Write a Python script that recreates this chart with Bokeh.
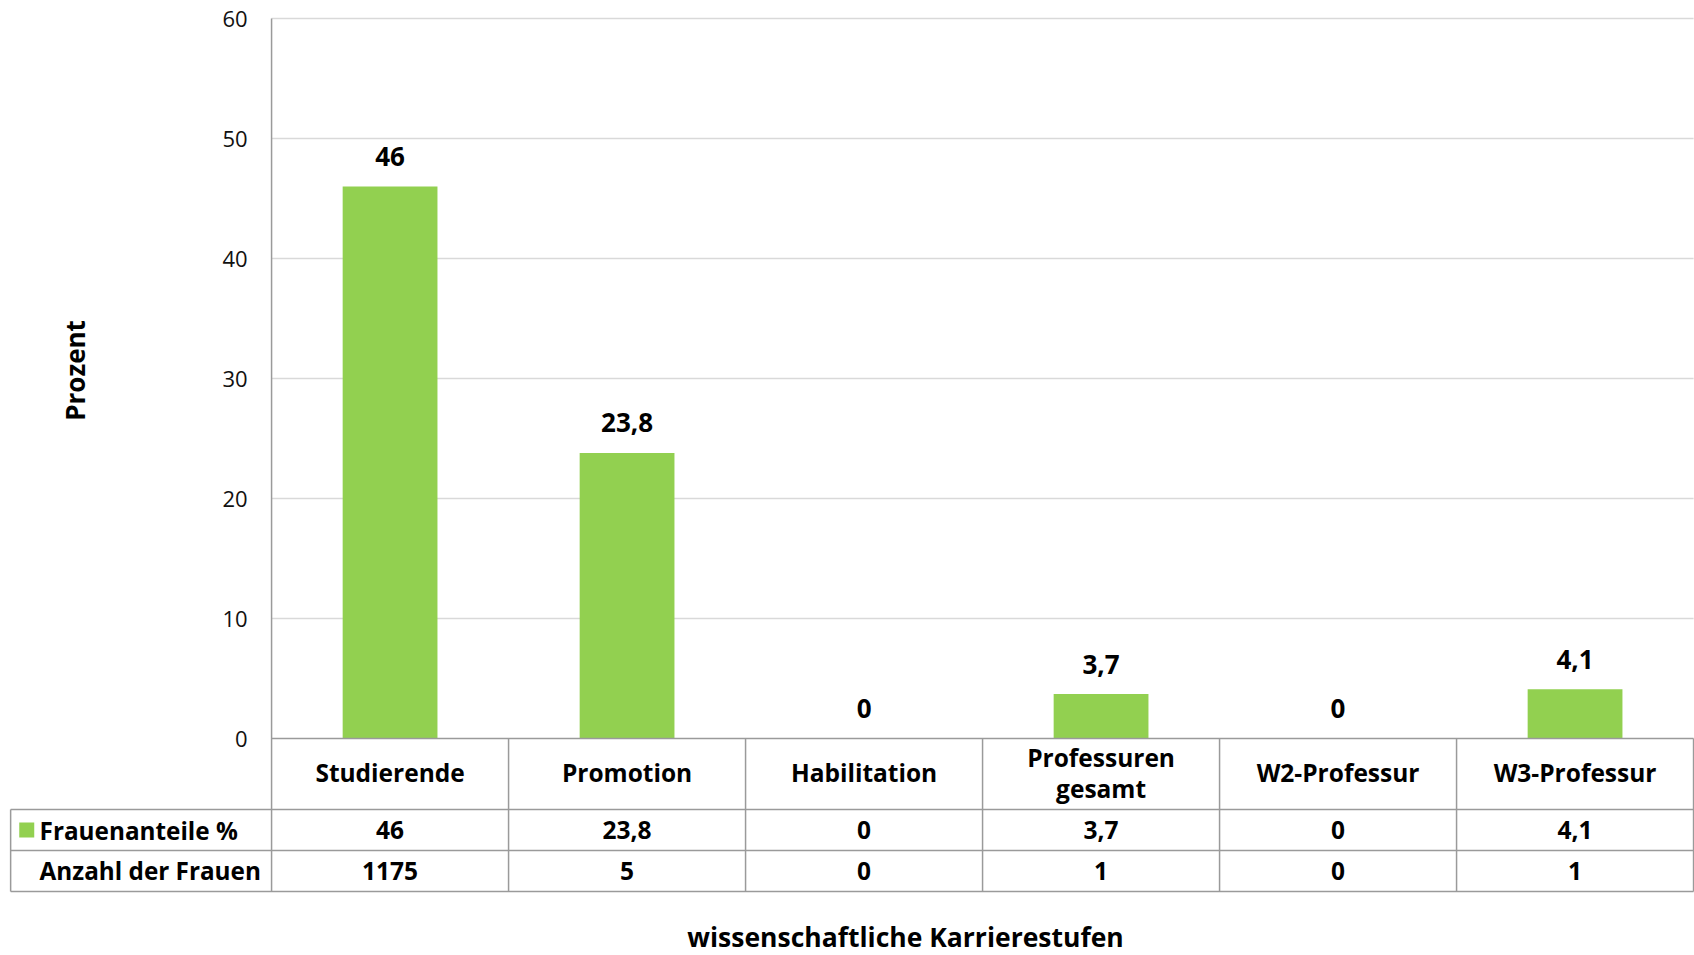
import math
from bokeh.plotting import figure
from bokeh.models import Range1d, LinearAxis, FixedTicker
from bokeh.core.properties import value
from bokeh.embed import file_html
from bokeh.resources import INLINE

# ---------------- data ----------------
categories = ["Studierende", "Promotion", "Habilitation", "Professuren\ngesamt", "W2-Professur", "W3-Professur"]
frauenanteile = [46, 23.8, 0, 3.7, 0, 4.1]
anzahl_frauen = [1175, 5, 0, 1, 0, 1]
y_ticks = [0, 10, 20, 30, 40, 50, 60]
series_name = "Frauenanteile %"
row2_name = "Anzahl der Frauen"
y_title = "Prozent"
x_title = "wissenschaftliche Karrierestufen"

# ---------------- style ----------------
FONT = "Open Sans"
GREEN = "#92D050"
LINE = "#9a9a9a"
GRID = "#d9d9d9"
TXT = "#000000"

n = len(categories)
xc = [i + 0.5 for i in range(n)]
fmt = lambda v: f"{v:g}".replace(".", ",")

HEAD = -1.101          # left edge of the table's header column
Y_CAT = -5.92          # bottom of category row
Y_R1 = -9.33           # bottom of first data row
Y_R2 = -12.75          # bottom of table

p = figure(width=1694, height=955,
           x_range=Range1d(-1.11, 6.004), y_range=Range1d(-18.083, 61.5),
           output_backend="svg", toolbar_location=None,
           x_axis_location=None, y_axis_location=None,
           min_border_left=8, min_border_right=0, min_border_top=0, min_border_bottom=0,
           outline_line_color=None)
p.grid.visible = False

# y axis drawn at x = 0
yaxis = LinearAxis(ticker=FixedTicker(ticks=y_ticks), fixed_location=0,
                   axis_line_color=None, major_tick_out=0, major_tick_in=0,
                   minor_tick_line_color=None, major_label_standoff=24,
                   major_label_text_font=FONT, major_label_text_font_size="22px",
                   major_label_text_color="#111111")
p.add_layout(yaxis, "left")

# gridlines
gt = [t for t in y_ticks if t > 0]
p.segment(x0=[0] * len(gt), x1=[n] * len(gt), y0=gt, y1=gt, line_color=GRID, line_width=1.5)

# bars
p.vbar(x=xc, top=frauenanteile, bottom=0, width=0.4, fill_color=GREEN, line_color=None)

# bar labels
p.text(x=xc, y=[v + 2.5 for v in frauenanteile], text=[fmt(v) for v in frauenanteile],
       text_align="center", text_baseline="middle", text_font=value(FONT),
       text_font_style="bold", text_font_size="26px", text_color=TXT)

# table lines
hx0 = [0, HEAD, HEAD, HEAD]
hx1 = [n, n, n, n]
hy = [0, Y_CAT, Y_R1, Y_R2]
p.segment(x0=hx0, x1=hx1, y0=hy, y1=hy, line_color=LINE, line_width=1.5)
vx = [0] + list(range(1, n + 1)) + [HEAD]
vy0 = [60] + [0] * n + [Y_CAT]
vy1 = [Y_R2] * (n + 2)
p.segment(x0=vx, x1=vx, y0=vy0, y1=vy1, line_color=LINE, line_width=1.5)

# category labels
p.text(x=xc, y=[Y_CAT / 2 + 0.1] * n, text=categories, text_align="center", text_baseline="middle",
       text_font=value(FONT), text_font_style="bold", text_font_size="24.5px",
       text_line_height=0.95, text_color=TXT)

# table rows
r1 = (Y_CAT + Y_R1) / 2
r2 = (Y_R1 + Y_R2) / 2
p.text(x=xc, y=[r1] * n, text=[fmt(v) for v in frauenanteile], text_align="center",
       text_baseline="middle", text_font=value(FONT), text_font_style="bold",
       text_font_size="24.5px", text_color=TXT)
p.text(x=xc, y=[r2] * n, text=[str(v) for v in anzahl_frauen], text_align="center",
       text_baseline="middle", text_font=value(FONT), text_font_style="bold",
       text_font_size="24.5px", text_color=TXT)

# row headers
p.scatter(x=[HEAD + 0.068], y=[r1], marker="square", size=15, fill_color=GREEN, line_color=None)
p.text(x=[HEAD + 0.122, HEAD + 0.122], y=[r1, r2], text=[series_name, row2_name],
       text_align="left", text_baseline="middle", text_font=value(FONT),
       text_font_style="bold", text_font_size="24.3px", text_color=TXT)

# axis titles
p.text(x=[-0.828], y=[30.67], text=[y_title], angle=math.pi / 2, text_align="center",
       text_baseline="middle", text_font=value(FONT), text_font_style="bold",
       text_font_size="26px", text_color=TXT)
p.text(x=[2.675], y=[-16.5], text=[x_title], text_align="center", text_baseline="middle",
       text_font=value(FONT), text_font_style="bold", text_font_size="26.5px", text_color=TXT)

open("out.html", "w").write(file_html(p, INLINE))
